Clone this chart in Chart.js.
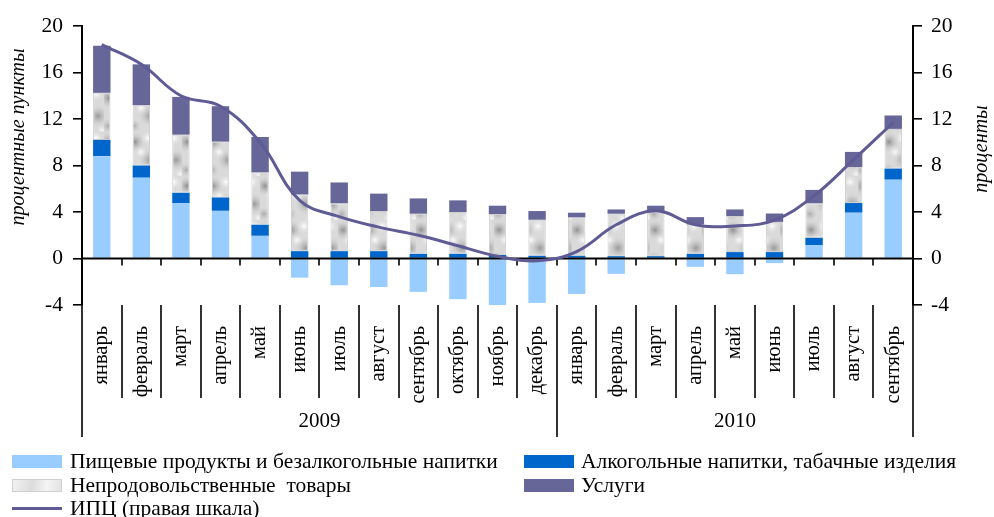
<!DOCTYPE html>
<html>
<head>
<meta charset="utf-8">
<script src="https://cdn.jsdelivr.net/npm/chart.js@4.4.1/dist/chart.umd.min.js"></script>
<style>
  html, body { margin: 0; padding: 0; background: #fff; }
  #wrap { position: relative; width: 994px; height: 517px; overflow: hidden; }
  #c { position: absolute; left: 0; top: 0; }
  .lg { position: absolute; font: 21.5px 'Liberation Serif', serif; color: #000; white-space: nowrap; line-height: 22px; }
  .sw { position: absolute; width: 50px; height: 13px; }
</style>
</head>
<body>
<div id="wrap">
  <canvas id="c" width="994" height="517"></canvas>
  <div class="sw" style="left:12px;top:455px;background:#99CCFF"></div>
  <div class="lg" style="left:70px;top:450px">Пищевые продукты и безалкогольные напитки</div>
  <div class="sw" style="left:524px;top:455px;background:#0066CC"></div>
  <div class="lg" style="left:581px;top:450px">Алкогольные напитки, табачные изделия</div>
  <div class="sw" style="left:12px;top:479px;background:linear-gradient(100deg,#f2f2f2,#dcdcdc 40%,#f4f4f4 70%,#e2e2e2);border:1px solid #d0d0d0;width:48px;height:11px"></div>
  <div class="lg" style="left:70px;top:474px">Непродовольственные&nbsp; товары</div>
  <div class="sw" style="left:524px;top:479px;background:#666699"></div>
  <div class="lg" style="left:581px;top:474px">Услуги</div>
  <div class="sw" style="left:12px;top:507px;height:3px;background:#5F5B94"></div>
  <div class="lg" style="left:70px;top:497px">ИПЦ (правая шкала)</div>
</div>
<script>
// months, two years
const months = ['январь', 'февраль', 'март', 'апрель', 'май', 'июнь', 'июль', 'август', 'сентябрь', 'октябрь', 'ноябрь', 'декабрь',
                'январь', 'февраль', 'март', 'апрель', 'май', 'июнь', 'июль', 'август', 'сентябрь'];
const years = ['2009', '2010'];
const yearLength = [12, 9];

// contributions, p.p.
const food     = [8.8, 6.95, 4.75, 4.1, 1.95, -1.65, -2.3, -2.45, -2.87, -3.5, -4.0, -3.82, -3.05, -1.32, 0, -0.72, -1.35, -0.4, 1.15, 3.94, 6.78];
const alcohol  = [1.4, 1.05, 0.9, 1.15, 0.95, 0.63, 0.63, 0.63, 0.4, 0.4, 0.3, 0.23, 0.23, 0.2, 0.2, 0.4, 0.55, 0.55, 0.63, 0.83, 0.95];
const nonfood  = [4.05, 5.2, 5.0, 4.8, 4.5, 4.87, 4.11, 3.45, 3.45, 3.6, 3.52, 3.1, 3.3, 3.65, 3.85, 2.53, 3.1, 2.6, 2.96, 3.1, 3.42];
const services = [4.05, 3.5, 3.25, 3.05, 3.05, 1.97, 1.8, 1.5, 1.32, 1.0, 0.72, 0.75, 0.41, 0.37, 0.49, 0.63, 0.57, 0.72, 1.16, 1.3, 1.15];
// CPI, %
const cpi      = [18.4, 16.7, 14.0, 13.1, 10.0, 5.0, 3.6, 2.7, 2.0, 1.1, 0.2, -0.2, 0.6, 2.9, 4.1, 2.9, 2.8, 3.3, 5.4, 8.5, 11.7];

const yTicks = { min: -4, max: 20, step: 4 };

const FONT = 'Liberation Serif';
const ctx = document.getElementById('c').getContext('2d');

// grey marble-like fill for non-food goods
function marble() {
  const t = document.createElement('canvas');
  t.width = 26; t.height = 44;
  const g = t.getContext('2d');
  g.fillStyle = '#dadada';
  g.fillRect(0, 0, 26, 44);
  const blobs = [
    [5, 10, 11, 'rgba(120,120,120,.75)'],
    [20, 28, 12, 'rgba(125,125,125,.7)'],
    [4, 38, 8, 'rgba(140,140,140,.6)'],
    [18, 6, 8, 'rgba(255,255,255,.95)'],
    [11, 20, 7, 'rgba(255,255,255,.9)'],
    [24, 42, 6, 'rgba(255,255,255,.8)']
  ];
  blobs.forEach(([x, y, r, col]) => {
    const rg = g.createRadialGradient(x, y, 0, x, y, r);
    rg.addColorStop(0, col);
    rg.addColorStop(1, 'rgba(218,218,218,0)');
    g.fillStyle = rg;
    g.fillRect(0, 0, 26, 44);
  });
  return ctx.createPattern(t, 'repeat');
}

const decor = {
  id: 'decor',
  beforeDatasetDraw(chart, args) {
    if (args.index !== 4) return;
    const { ctx, chartArea: a, scales: { x, y } } = chart;
    const y0 = y.getPixelForValue(0);
    ctx.save();
    ctx.strokeStyle = '#000';
    ctx.lineWidth = 2;
    ctx.beginPath();
    ctx.moveTo(a.left, y0); ctx.lineTo(a.right, y0);
    ctx.stroke();
    ctx.lineWidth = 1.6;
    ctx.beginPath();
    for (let i = 1; i < months.length; i++) {
      const bx = Math.round((x.getPixelForValue(i - 1) + x.getPixelForValue(i)) / 2);
      ctx.moveTo(bx, y0); ctx.lineTo(bx, y0 + 7);
    }
    ctx.stroke();
    ctx.restore();
  },
  afterDraw(chart) {
    const { ctx, chartArea: a, scales: { x } } = chart;
    ctx.save();
    ctx.strokeStyle = '#000';
    ctx.lineWidth = 1.6;
    ctx.beginPath();
    let start = 0;
    for (let i = 1; i < months.length; i++) {
      const bx = Math.round((x.getPixelForValue(i - 1) + x.getPixelForValue(i)) / 2);
      const yearEdge = i === yearLength[0];
      ctx.moveTo(bx, a.bottom); ctx.lineTo(bx, yearEdge ? 437 : 398);
    }
    ctx.moveTo(a.left, a.bottom); ctx.lineTo(a.left, 437);
    ctx.moveTo(a.right, a.bottom); ctx.lineTo(a.right, 437);
    ctx.stroke();

    // years
    ctx.fillStyle = '#000';
    ctx.font = '21px ' + FONT;
    ctx.textAlign = 'center';
    ctx.textBaseline = 'middle';
    years.forEach((yr, k) => {
      const first = start, last = start + yearLength[k] - 1;
      const l = k === 0 ? a.left : (x.getPixelForValue(first - 1) + x.getPixelForValue(first)) / 2;
      const r = k === years.length - 1 ? a.right : (x.getPixelForValue(last) + x.getPixelForValue(last + 1)) / 2;
      ctx.fillText(yr, (l + r) / 2, 421);
      start += yearLength[k];
    });

    // axis titles
    ctx.font = 'italic 20px ' + FONT;
    ctx.save();
    ctx.translate(19, 137);
    ctx.rotate(-Math.PI / 2);
    ctx.fillText('процентные пункты', 0, 0);
    ctx.restore();
    ctx.save();
    ctx.translate(982, 149);
    ctx.rotate(-Math.PI / 2);
    ctx.fillText('проценты', 0, 0);
    ctx.restore();
    ctx.restore();
  }
};

const barCommon = { stack: 'a', yAxisID: 'y', order: 1, categoryPercentage: 1, barPercentage: 0.44, borderSkipped: false };

new Chart(ctx, {
  type: 'bar',
  data: {
    labels: months,
    datasets: [
      { ...barCommon, label: 'Пищевые продукты и безалкогольные напитки', data: food, backgroundColor: '#99CCFF' },
      { ...barCommon, label: 'Алкогольные напитки, табачные изделия', data: alcohol, backgroundColor: '#0066CC' },
      { ...barCommon, label: 'Непродовольственные товары', data: nonfood, backgroundColor: marble(), borderColor: '#cfcfcf', borderWidth: 1 },
      { ...barCommon, label: 'Услуги', data: services, backgroundColor: '#666699' },
      { type: 'line', label: 'ИПЦ (правая шкала)', data: cpi, yAxisID: 'y2', order: 0,
        borderColor: '#5F5B94', borderWidth: 3, pointRadius: 0, tension: 0.4, fill: false }
    ]
  },
  options: {
    responsive: false,
    animation: false,
    layout: { padding: { top: 26, left: 0, right: 0, bottom: 0 } },
    plugins: { legend: { display: false }, tooltip: { enabled: false } },
    scales: {
      x: {
        stacked: true,
        grid: { display: false },
        border: { display: false },
        ticks: { autoSkip: false, minRotation: 90, maxRotation: 90, padding: 13, color: '#000', font: { family: FONT, size: 20.5 } },
        afterFit: s => { s.height = 212; }
      },
      y: {
        stacked: true,
        position: 'left',
        min: yTicks.min, max: yTicks.max,
        grid: { drawOnChartArea: false, tickLength: 9, color: '#000', lineWidth: 1.6 },
        border: { color: '#000', width: 2 },
        ticks: { stepSize: yTicks.step, padding: 10, color: '#000', font: { family: FONT, size: 21.5 } },
        afterFit: s => { s.width = 82; }
      },
      y2: {
        position: 'right',
        min: yTicks.min, max: yTicks.max,
        grid: { drawOnChartArea: false, tickLength: 9, color: '#000', lineWidth: 1.6 },
        border: { color: '#000', width: 2 },
        ticks: { stepSize: yTicks.step, padding: 9, color: '#000', font: { family: FONT, size: 21.5 } },
        afterFit: s => { s.width = 81; }
      }
    }
  },
  plugins: [decor]
});
</script>
</body>
</html>
